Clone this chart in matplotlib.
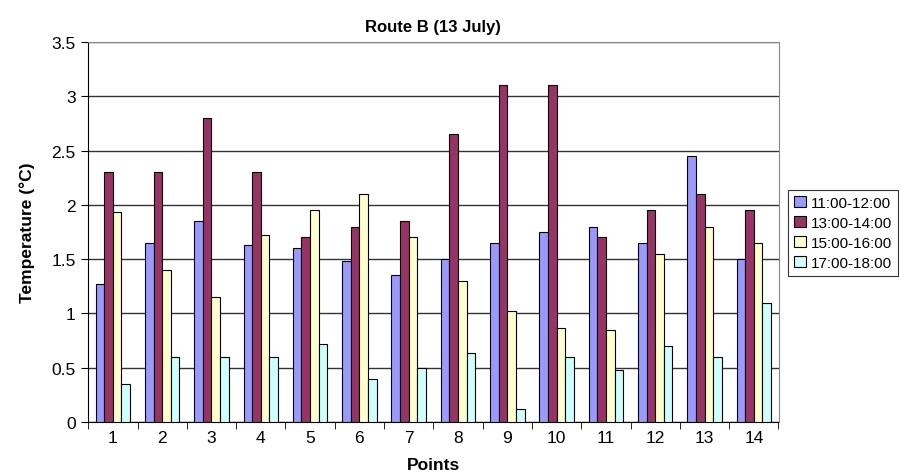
import numpy as np
from matplotlib import pyplot as plt

plt.rcParams['font.family'] = ['Liberation Sans', 'DejaVu Sans']

points = ['1', '2', '3', '4', '5', '6', '7', '8', '9', '10', '11', '12', '13', '14']
series_names = ['11:00-12:00', '13:00-14:00', '15:00-16:00', '17:00-18:00']
t_11_12 = [1.27, 1.65, 1.85, 1.63, 1.60, 1.48, 1.35, 1.50, 1.65, 1.75, 1.80, 1.65, 2.45, 1.50]
t_13_14 = [2.30, 2.30, 2.80, 2.30, 1.70, 1.80, 1.85, 2.65, 3.10, 3.10, 1.70, 1.95, 2.10, 1.95]
t_15_16 = [1.93, 1.40, 1.15, 1.72, 1.95, 2.10, 1.70, 1.30, 1.02, 0.87, 0.85, 1.55, 1.80, 1.65]
t_17_18 = [0.35, 0.60, 0.60, 0.60, 0.72, 0.40, 0.50, 0.64, 0.12, 0.60, 0.48, 0.70, 0.60, 1.10]
colors = ['#9999FF', '#993366', '#FFFFCC', '#CCFFFF']

fig = plt.figure(figsize=(9, 4.77), dpi=100)
ax = fig.add_axes([0.098, 0.113, 0.767, 0.797])

x = np.arange(len(points))
w = 0.175
data = [t_11_12, t_13_14, t_15_16, t_17_18]
for i, vals in enumerate(data):
    ax.bar(x + (i - 1.5) * w, vals, w, color=colors[i], edgecolor='black',
           linewidth=0.8, label=series_names[i], zorder=3)

ax.set_xlim(-0.5, len(points) - 0.5)
ax.set_ylim(0, 3.5)
ax.set_yticks(np.arange(0, 3.51, 0.5))
ax.set_yticklabels(['0', '0.5', '1', '1.5', '2', '2.5', '3', '3.5'])
ax.yaxis.grid(True, color='#333333', linewidth=1, zorder=0)

ax.set_xticks(x)
ax.set_xticklabels(points)
ax.set_xticks(np.arange(-0.5, len(points), 1), minor=True)
ax.tick_params(axis='x', which='major', length=0, labelsize=12.5, pad=6)
ax.tick_params(axis='x', which='minor', length=5, direction='out', color='black')
ax.tick_params(axis='y', length=5, direction='out', labelsize=12.5, pad=4)

for s in ['top', 'right']:
    ax.spines[s].set_color('#888888')
for s in ['left', 'bottom']:
    ax.spines[s].set_color('black')

ax.set_title('Route B (13 July)', fontsize=12, fontweight='bold', pad=8)
ax.set_xlabel('Points', fontsize=12.5, fontweight='bold', labelpad=8)
ax.set_ylabel('Temperature (°C)', fontsize=12.5, fontweight='bold', labelpad=12)

leg = fig.legend(loc='center left', bbox_to_anchor=(0.875, 0.510), fontsize=11,
                 frameon=True, fancybox=False, edgecolor='black',
                 handlelength=0.8, handleheight=0.8, handletextpad=0.3,
                 borderpad=0.4, labelspacing=0.38, borderaxespad=0)
leg.get_frame().set_linewidth(0.8)

fig.savefig('out.png', dpi=100)
